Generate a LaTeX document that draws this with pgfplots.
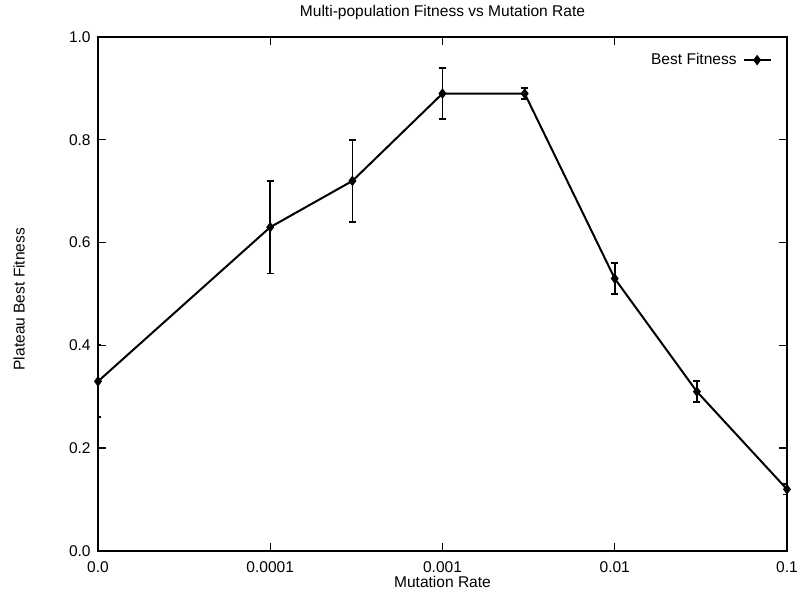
\documentclass[border=0pt]{standalone}
\usepackage{fontspec}
\setmainfont{Liberation Sans}
\usepackage{pgfplots}
\pgfplotsset{compat=1.18}
\usetikzlibrary{calc}

\begin{document}
\fontsize{15.6}{18}\selectfont
\begin{tikzpicture}
\begin{axis}[
  scale only axis, width=689bp, height=514bp,
  xmode=log, log basis x=10,
  xmin=1e-5, xmax=0.1, ymin=0, ymax=1,
  xtick={1e-5,1e-4,1e-3,1e-2,1e-1},
  xticklabels={0.0,0.0001,0.001,0.01,0.1},
  minor xtick={},
  ytick={0,0.2,0.4,0.6,0.8,1.0},
  yticklabel style={/pgf/number format/fixed, /pgf/number format/fixed zerofill,
    /pgf/number format/precision=1, /pgf/number format/assume math mode=true},
  xticklabel style={yshift=-5bp},
  yticklabel style={xshift=-2bp},
  major tick length=8bp,
  axis line style={line width=1.6bp},
  tick style={line width=1.4bp, black},
  title={Multi-population Fitness vs Mutation Rate},
  title style={at={(axis description cs:0.5,1.0486)}, anchor=center, yshift=-6pt},
  xlabel={Mutation Rate},
  x label style={at={(axis description cs:0.5,-0.0600)}, anchor=center},
  ylabel={Plateau Best Fitness},
  y label style={at={(axis description cs:-0.1147,0.49)}, anchor=center},
  legend plot pos=right,
  legend style={draw=none, fill=none, at={(0.978,0.955)}, anchor=east, inner sep=0pt,
    cells={anchor=east}, /tikz/column sep=4bp},
  legend image code/.code={\draw[mark repeat=2, mark phase=2] plot coordinates {(0bp,0bp) (13.5bp,0bp) (27bp,0bp)};},
]
\addplot+[black, line width=2bp, mark=diamond*, mark size=4.5bp,
  mark options={solid, fill=black, line width=1pt},
  error bars/.cd, y dir=both, y explicit,
  error bar style={line width=1.8bp, black},
  error mark options={rotate=90, mark size=3.5bp, line width=1.8bp, black}]
  coordinates {
  (1e-5,0.33) +- (0,0.07)
  (1e-4,0.63) +- (0,0.09)
  (3e-4,0.72) +- (0,0.08)
  (1e-3,0.89) +- (0,0.05)
  (3e-3,0.89) +- (0,0.01)
  (1e-2,0.53) +- (0,0.03)
  (3e-2,0.31) +- (0,0.02)
  (1e-1,0.12) +- (0,0.01)
  };
\addlegendentry{Best Fitness}
\end{axis}
\pgfresetboundingbox
\path ($(current axis.south west)+(-98bp,-39bp)$) rectangle ($(current axis.north east)+(10bp,37bp)$);
\end{tikzpicture}
\end{document}
